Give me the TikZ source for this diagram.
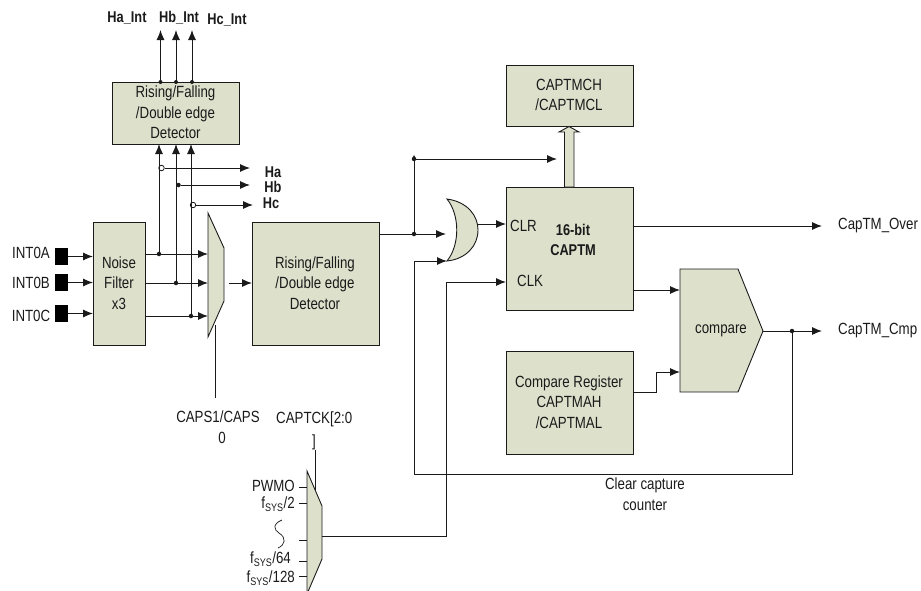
\documentclass[tikz,border=0pt]{standalone}
\usepackage{fontspec}
\setmainfont[FakeStretch=0.82]{Liberation Sans}
\usetikzlibrary{arrows.meta,calc}
\definecolor{boxfill}{HTML}{DDE1CC}
\definecolor{ink}{HTML}{1A1A1A}
\tikzset{
  x=1pt,y=-1pt,
  every node/.style={font=\fontsize{16.2}{20.5}\selectfont,text=ink,inner sep=0pt},
  block/.style={draw=ink,fill=boxfill,line width=.9pt,anchor=north west,align=center,inner sep=0pt},
  shapefill/.style={draw=ink,fill=boxfill,line width=.9pt,line join=miter},
  wire/.style={draw=ink,line width=.95pt},
  arrowwire/.style={wire,-{Latex[length=10pt,width=8pt]}},
  junct/.style={circle,fill=ink,minimum size=4.5pt},
  hollow/.style={circle,draw=ink,fill=white,line width=.8pt,minimum size=5.5pt},
  bold label/.style={font=\fontsize{15.6}{20.5}\selectfont\bfseries},
  pin/.style={fill=black,draw=none,minimum width=13pt,minimum height=17pt},
}
\newcommand{\fsys}{f\textsubscript{\fontsize{11}{11}\selectfont SYS}}
\begin{document}
\begin{tikzpicture}
\useasboundingbox (0,0) rectangle (921,590);
\clip (0,0) rectangle (921,590);

% --- blocks
\node[block,minimum width=127pt,minimum height=62pt] (topdet) at (112,82) {};
\node[align=center] (topdettext) at (175.5,112.5) {Rising/Falling\\/Double edge\\Detector};
\node[block,minimum width=52pt,minimum height=123pt] (nf) at (93,222) {};
\node[align=center] (nftext) at (119,283) {Noise\\Filter\\x3};
\node[block,minimum width=127pt,minimum height=123pt] (det) at (252,222) {};
\node[align=center] (dettext) at (315,283) {Rising/Falling\\/Double edge\\Detector};
\node[block,minimum width=127pt,minimum height=61pt] (mch) at (506,65) {};
\node[align=center] (mchtext) at (569,95) {CAPTMCH\\/CAPTMCL};
\node[block,minimum width=127pt,minimum height=123pt] (cap) at (506,187) {};
\node[align=center,bold label] (captext) at (573,240) {16-bit\\CAPTM};
\node[anchor=west] (clr) at (510,226) {CLR};
\node[anchor=west] (clk) at (517,281) {CLK};
\node[block,minimum width=127pt,minimum height=103pt] (reg) at (506,351) {};
\node[align=center] (regtext) at (569,402) {Compare Register\\CAPTMAH\\/CAPTMAL};

% --- named pins
\node[pin] (pa) at (61.5,256.5) {};
\node[pin] (pb) at (61.5,282.5) {};
\node[pin] (pc) at (61.5,313.5) {};
\node (la) at (31,253) {INT0A};
\node (lb) at (31,283) {INT0B};
\node (lc) at (31,316) {INT0C};

% --- muxes, OR gate, comparator
\draw[shapefill] (208,213) -- (224,248) -- (224,301) -- (208,337) -- cycle;
\draw[shapefill] (307,471) -- (322,506) -- (322,559) -- (307,594) -- cycle;
\draw[shapefill] (447,199) .. controls (468,202) and (478,216) .. (478,230)
  .. controls (478,246) and (466,259) .. (447,261)
  .. controls (460,245) and (460,215) .. (447,199) -- cycle;
\draw[shapefill] (680,269) -- (738,269) -- (763,331) -- (738,392) -- (680,392) -- cycle;
\node (cmptext) at (721,331) {compare};

% --- junction coordinates
\coordinate (muxAin) at (208,254);
\coordinate (muxBin) at (208,283);
\coordinate (muxCin) at (208,316);
\coordinate (muxOut) at (229,283);
\node[junct] (ja) at (159,254) {};
\node[junct] (jb) at (176,283) {};
\node[junct] (jc) at (191,316) {};
\node[hollow] (ha) at (161.5,168) {};
\node[junct] (hb) at (178.5,185) {};
\node[hollow] (hc) at (193,205) {};
\node[junct] (j1) at (414,234) {};
\node[junct] (j2) at (414,159) {};
\node[junct] (j3) at (792,331) {};

% --- top arrows
\coordinate (u1) at (160.5,82); \coordinate (v1) at (160.5,30);
\coordinate (u2) at (176,82);   \coordinate (v2) at (176,30);
\coordinate (u3) at (192,82);   \coordinate (v3) at (192,30);
\draw[arrowwire] (u1) -- (v1);
\draw[arrowwire] (u2) -- (v2);
\draw[arrowwire] (u3) -- (v3);
\fill[ink] (u1) circle (2pt) (u2) circle (2pt) (u3) circle (2pt);
\node[bold label] (hai) at (127,18) {Ha\_Int};
\node[bold label] (hbi) at (179,18) {Hb\_Int};
\node[bold label] (hci) at (227,20) {Hc\_Int};

\coordinate (d1) at (159,144);
\coordinate (d2) at (176,144);
\coordinate (d3) at (191,144);
\draw[arrowwire] (ja.center) -- (d1);
\draw[arrowwire] (jb.center) -- (d2);
\draw[arrowwire] (jc.center) -- (d3);

\coordinate (ta) at (250,168);
\coordinate (tb) at (250,185);
\coordinate (tc) at (253,205);
\draw[arrowwire] (ha) -- (ta);
\draw[arrowwire] (hb) -- (tb);
\draw[arrowwire] (hc) -- (tc);
\node[bold label] (lha) at (273,172) {Ha};
\node[bold label] (lhb) at (273,187) {Hb};
\node[bold label] (lhc) at (271,203) {Hc};

% --- inputs
\draw[arrowwire] (pa.east) -- (nf.west |- pa.east);
\draw[arrowwire] (pb.east) -- (nf.west |- pb.east);
\draw[arrowwire] (pc.east) -- (nf.west |- pc.east);
\draw[arrowwire] (nf.east |- muxAin) -- (muxAin);
\draw[arrowwire] (nf.east |- muxBin) -- (muxBin);
\draw[arrowwire] (nf.east |- muxCin) -- (muxCin);
\draw[arrowwire] (muxOut) -- (det.west |- muxOut);

% --- select of first mux
\coordinate (s1) at (215,325); \coordinate (s1e) at (215,398);
\draw[wire] (s1) -- (s1e);
\node (caps1) at (218,417) {CAPS1/CAPS};
\node (caps0) at (222,438) {0};

% --- detector to OR, branch to CAPTMCH
\coordinate (orA) at (446,234);
\coordinate (orB) at (447,261);
\coordinate (orOut) at (478,224);
\coordinate (j2e) at (557,159);
\draw[wire] (det.east |- j1) -- (j1.center);
\draw[arrowwire] (j1.center) -- (orA);
\draw[wire] (j1.center) -- (j2.center);
\draw[arrowwire] (j2.center) -- (j2e);
\draw[arrowwire] (orOut) -- (cap.west |- orOut);
\fill[ink] (412,159) -- (416,159) -- (414,155) -- cycle;

% --- clear feedback
\coordinate (fb1) at (414,474);
\coordinate (fb2) at (792,474);
\coordinate (fb3) at (414,261);
\draw[wire] (j3.center) -- (fb2) -- (fb1) -- (fb3);
\draw[arrowwire] (fb3) -- (orB);
\node[align=center] (clrcap) at (645,494) {Clear capture\\counter};

% --- clock
\coordinate (ckout) at (322,536);
\coordinate (ckturn) at (446.5,536);
\coordinate (ckclk) at (446.5,282);
\draw[wire] (ckout) -- (ckturn) -- (ckclk);
\draw[arrowwire] (ckclk) -- (cap.west |- ckclk);

% --- hollow bus arrow
\draw[draw=ink,fill=boxfill,line width=.9pt,line join=miter]
  (564.5,187) -- (564.5,132) -- (559,132) -- (569,126.5) -- (579,132) -- (574,132) -- (574,187) -- cycle;

% --- outputs
\coordinate (capOv) at (822,226);
\draw[arrowwire] (cap.east |- capOv) -- (capOv);
\node[anchor=west] (ovl) at (838,226) {CapTM\_Over};
\coordinate (cmpa) at (680,290);
\draw[arrowwire] (cap.east |- cmpa) -- (cmpa);
\coordinate (cmpb) at (680,372);
\coordinate (rg1) at (656,392);
\coordinate (rg2) at (656,372);
\draw[arrowwire] (reg.east |- rg1) -- (rg1) -- (rg2) -- (cmpb);
\coordinate (cmpOut) at (763,331);
\coordinate (cmpEnd) at (822,331);
\draw[arrowwire] (cmpOut) -- (cmpEnd);
\node[anchor=west] (cmpl) at (838,331) {CapTM\_Cmp};

% --- clock mux labels
\coordinate (s2) at (315.7,450); \coordinate (s2e) at (315.7,490);
\draw[wire] (s2) -- (s2e);
\node[anchor=west] (ck1) at (276,419) {CAPTCK[2:0};
\node (ck2) at (314,442) {]};
\foreach \yy/\nm in {487/t1,503/t2,540/t3,561/t4,576/t5}{
  \coordinate (\nm) at (307,\yy);
  \draw[wire] (\nm) -- ++(-8,0);
}
\node[anchor=east] (pwm) at (295,486) {PWMO};
\node[anchor=east] (f2) at (295,504) {\fsys/2};
\node[anchor=east] (f64) at (291,559) {\fsys/64};
\node[anchor=east] (f128) at (295,578) {\fsys/128};
\draw[ink,line width=.7pt] (282,520) .. controls (272,524) and (274,530) .. (279,533)
  .. controls (287,538) and (285,545) .. (278,548);
\end{tikzpicture}
\end{document}
